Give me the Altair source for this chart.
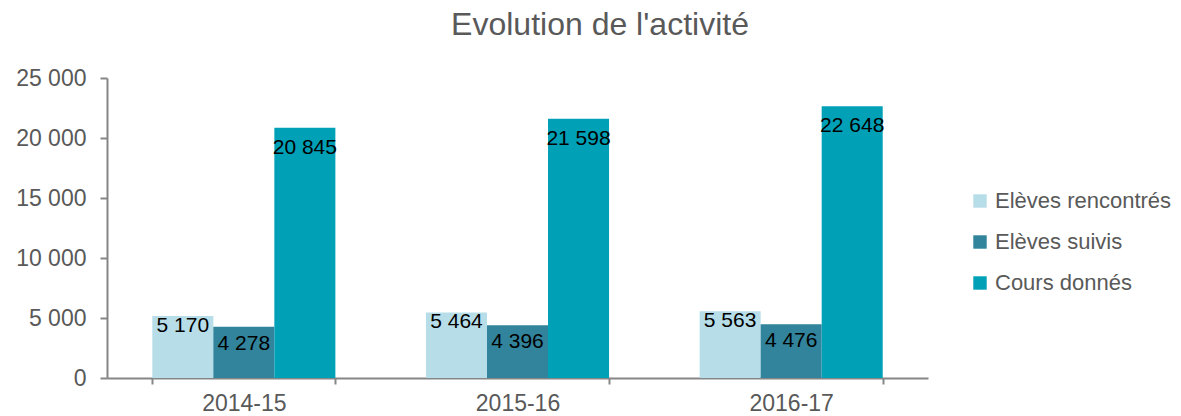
import altair as alt
import pandas as pd

years = ["2014-15", "2015-16", "2016-17"]
series = ["Elèves rencontrés", "Elèves suivis", "Cours donnés"]
rencontres = [5170, 5464, 5563]
suivis = [4278, 4396, 4476]
cours = [20845, 21598, 22648]
colors = ["#B7DEE8", "#31849B", "#00A0B7"]
label_dy = [10, 17, 20]
title_text = "Evolution de l'activité"

rows = []
for vals, s in zip([rencontres, suivis, cours], series):
    for y, v in zip(years, vals):
        rows.append({"Année": y, "Série": s, "Valeur": v})
df = pd.DataFrame(rows)

FONT = "Liberation Sans"
GREY = "#595959"

base = alt.Chart(df).encode(
    x=alt.X("Année:N", sort=years, title=None,
            scale=alt.Scale(paddingInner=0.331, paddingOuter=0.1655),
            axis=alt.Axis(labelAngle=0, tickBand="extent", tickSize=6,
                          labelPadding=8, labelFontSize=23, labelColor=GREY,
                          labelFont=FONT, domainColor="#868686", tickColor="#868686",
                          domainWidth=2, tickWidth=2)),
    xOffset=alt.XOffset("Série:N", sort=series),
)

bars = base.mark_bar().encode(
    y=alt.Y("Valeur:Q", stack=False, title=None,
            scale=alt.Scale(domain=[0, 25000], nice=False),
            axis=alt.Axis(values=[0, 5000, 10000, 15000, 20000, 25000],
                          labelExpr="replace(format(datum.value, ','), ',', ' ')",
                          grid=False, tickSize=7, labelPadding=14,
                          labelFontSize=23, labelColor=GREY, labelFont=FONT,
                          domainColor="#868686", tickColor="#868686",
                          domainWidth=2, tickWidth=2)),
    color=alt.Color("Série:N", sort=series,
                    scale=alt.Scale(domain=series, range=colors),
                    legend=alt.Legend(title=None, orient="none", legendX=862, legendY=112,
                                      symbolType="square", symbolSize=180,
                                      symbolStrokeWidth=0, labelFontSize=22,
                                      labelColor=GREY, labelFont=FONT, labelLimit=400,
                                      rowPadding=19, labelOffset=4)),
)

label_layers = []
for s, dy in zip(series, label_dy):
    label_layers.append(
        base.transform_filter(alt.datum["Série"] == s).transform_calculate(
            txt="replace(format(datum.Valeur, ','), ',', ' ')"
        ).mark_text(baseline="middle", align="center", font=FONT, fontSize=21,
                    color="#000000", dy=dy).encode(
            y=alt.Y("Valeur:Q", stack=False),
            text="txt:N",
        )
    )

title = alt.Chart(pd.DataFrame({"t": [title_text]})).mark_text(
    font=FONT, fontSize=32, color=GREY, align="center", baseline="alphabetic"
).encode(x=alt.value(493), y=alt.value(-43), text="t:N")

chart = alt.layer(bars, *label_layers, title).properties(
    width=821, height=300,
    autosize=alt.AutoSizeParams(type="none"),
    padding={"left": 99, "top": 70, "right": 245, "bottom": 38},
).configure_view(stroke=None)

chart.save("out.html", embed_options={"renderer": "svg", "actions": False})
